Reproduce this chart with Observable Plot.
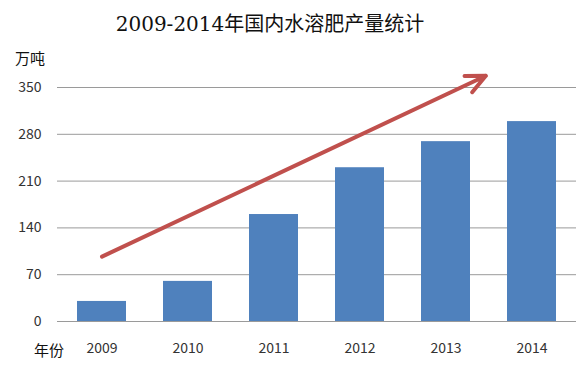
<!DOCTYPE html>
<html>
<head>
<meta charset="utf-8">
<script src="https://cdn.jsdelivr.net/npm/d3@7"></script>
<script src="https://cdn.jsdelivr.net/npm/@observablehq/plot@0.6"></script>
<style>
  html, body { margin: 0; padding: 0; background: #fff; }
  #wrap { position: relative; width: 580px; height: 374px; overflow: hidden; }
  #title { position: absolute; left: 0; width: 540px; top: 8px; text-align: center;
           font-family: "DejaVu Serif", "Noto Sans CJK SC", serif; font-size: 20px; color: #111; white-space: nowrap; }
  .lab { position: absolute; font-family: "Noto Sans CJK SC", sans-serif; font-size: 15px; color: #111; white-space: nowrap; line-height: 1; }
  #chart { position: absolute; left: 0; top: 0; }
</style>
</head>
<body>
<div id="wrap">
  <div id="chart"></div>
  <div id="title">2009-2014年国内水溶肥产量统计</div>
  <div class="lab" id="ylab" style="left:15px; top:50px;">万吨</div>
  <div class="lab" id="xlab" style="left:34px; top:342px;">年份</div>
</div>
<script>
const years = ["2009", "2010", "2011", "2012", "2013", "2014"];
const output = [30, 60, 160, 230, 269, 299];
const yTicks = [0, 70, 140, 210, 280, 350];
// trend arrow annotation (year, value) endpoints
const trendFrom = ["2009", 97];
const trendTo = ["2014", 400];

const data = years.map((y, i) => ({year: y, value: output[i]}));
const trend = [{x1: trendFrom[0], y1: trendFrom[1], x2: trendTo[0], y2: trendTo[1]}];

const chart = Plot.plot({
  width: 580,
  height: 374,
  marginTop: 87,
  marginBottom: 53,
  marginLeft: 57,
  marginRight: 4,
  style: {fontFamily: "'Noto Sans CJK SC', sans-serif", fontSize: "14px", background: "transparent"},
  x: {domain: years, paddingInner: 0.43, paddingOuter: 0.215, label: null},
  y: {domain: [0, 350], label: null},
  marks: [
    Plot.gridY(yTicks, {stroke: "#9a9a9a", strokeOpacity: 1, strokeWidth: 1}),
    Plot.barY(data, {x: "year", y: "value", fill: "#4f81bd"}),
    Plot.ruleY([0], {stroke: "#9a9a9a", strokeWidth: 1}),
    Plot.axisY(yTicks, {tickSize: 0, tickPadding: 16, fill: "#333", label: null, fontSize: 14}),
    Plot.axisX({tickSize: 0, tickPadding: 22, fill: "#333", label: null, fontSize: 14}),
    Plot.arrow(trend, {x1: "x1", y1: "y1", x2: "x2", y2: "y2", stroke: "#c0504d", strokeWidth: 4,
      headLength: 8, headAngle: 50, insetEnd: 51})
  ]
});
document.getElementById("chart").appendChild(chart);
</script>
</body>
</html>
